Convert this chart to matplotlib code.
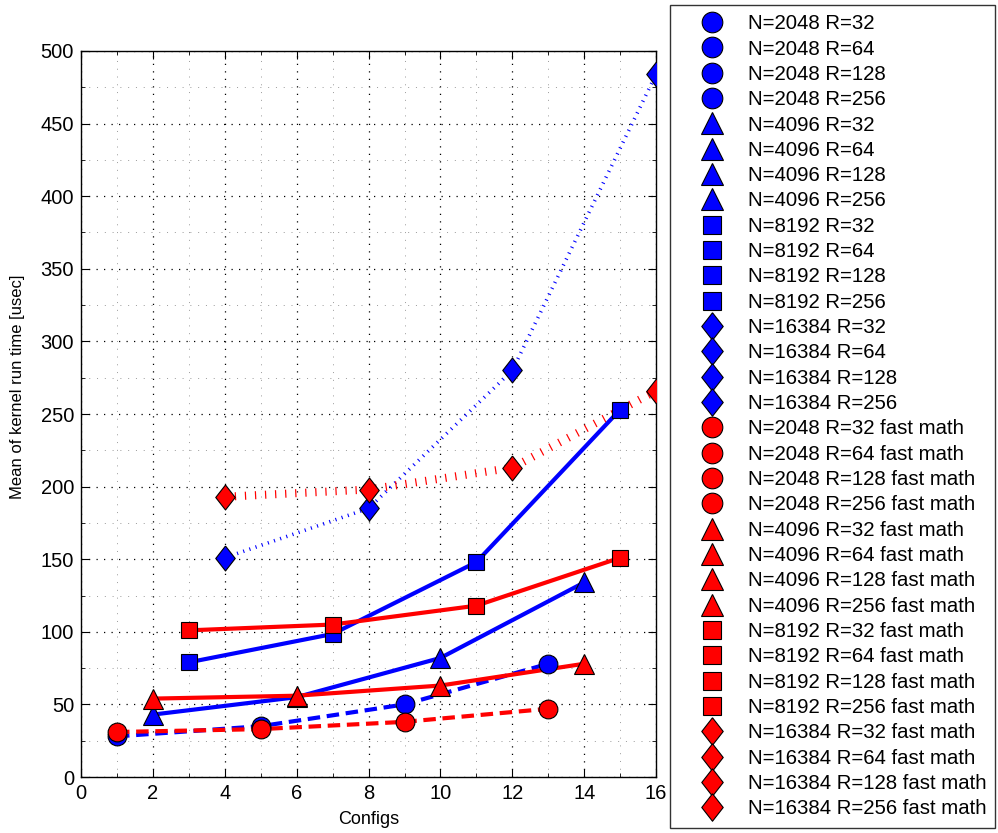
import matplotlib
matplotlib.use("Agg")
import matplotlib.pyplot as plt
from matplotlib.ticker import MultipleLocator

plt.rcParams['font.family'] = ['Liberation Sans', 'DejaVu Sans']

# configs on the x axis, one group of four per N
cfg_2048 = [1, 5, 9, 13]
cfg_4096 = [2, 6, 10, 14]
cfg_8192 = [3, 7, 11, 15]
cfg_16384 = [4, 8, 12, 16]

# mean kernel run time [usec]
t_2048 = [28, 35, 50, 78]
t_4096 = [43, 55, 82, 134]
t_8192 = [79, 98.5, 148, 253]
t_16384 = [151, 185, 280, 484]

t_2048_fm = [31, 33, 38, 47]
t_4096_fm = [54, 56, 63, 78]
t_8192_fm = [101, 105, 118, 151]
t_16384_fm = [193, 198, 213, 266]

sizes_N = [2048, 4096, 8192, 16384]
radii = [32, 64, 128, 256]

diamond = [(0, 1), (0.78, 0), (0, -1), (-0.78, 0), (0, 1)]

# marker, size, plain style, plain lw, fast-math style, fast-math lw
groups = [
    (cfg_2048, t_2048, t_2048_fm, 'o', 13.5, (0, (3, 1.6)), 3.0, (0, (3, 1.6)), 3.0),
    (cfg_4096, t_4096, t_4096_fm, '^', 14, '-', 3.0, '-', 3.0),
    (cfg_8192, t_8192, t_8192_fm, 's', 11.5, '-', 3.0, '-', 3.0),
    (cfg_16384, t_16384, t_16384_fm, diamond, 18, (0, (0.3, 1.5)), 2.6, (0, (0.15, 1.1)), 5.8),
]

fig = plt.figure(figsize=(9.98, 8.33), dpi=100)
ax = fig.add_axes([0.0812, 0.0672, 0.5762, 0.8716])

handles = []
labels = []
for suffix, color, idx in [('', 'blue', 1), (' fast math', 'red', 2)]:
    for n, g in zip(sizes_N, groups):
        xs = g[0]
        ys = g[idx]
        ls = g[5] if idx == 1 else g[7]
        lw = g[6] if idx == 1 else g[8]
        ax.plot(xs, ys, linestyle=ls, color=color, linewidth=lw,
                dash_capstyle='butt', zorder=2)
        for k, r in enumerate(radii):
            h, = ax.plot([xs[k]], [ys[k]], linestyle='none', marker=g[3],
                         markersize=g[4], markerfacecolor=color,
                         markeredgecolor='black', markeredgewidth=0.8, zorder=3)
            handles.append(h)
            labels.append('N=%d R=%d%s' % (n, r, suffix))

ax.set_xlim(0, 16)
ax.set_ylim(0, 500)
ax.xaxis.set_major_locator(MultipleLocator(2))
ax.xaxis.set_minor_locator(MultipleLocator(1))
ax.yaxis.set_major_locator(MultipleLocator(50))
ax.yaxis.set_minor_locator(MultipleLocator(25))
ax.grid(True, which='major', color='black', linestyle=(0, (1, 5)), linewidth=0.9)
ax.grid(True, which='minor', color='#999999', linestyle=(0, (1, 7)), linewidth=0.7)
ax.set_axisbelow(True)
ax.tick_params(which='both', direction='in', top=True, right=True, labelsize=14.5)
ax.tick_params(which='major', length=6, pad=5)
ax.tick_params(which='minor', length=3)
for s in ax.spines.values():
    s.set_linewidth(1.0)

ax.set_xlabel('Configs', fontsize=13, labelpad=6)
ax.set_ylabel('Mean of kernel run time [usec]', fontsize=12)
ax.yaxis.set_label_coords(-0.097, 0.538)

leg = fig.legend(handles, labels, loc='upper left', bbox_to_anchor=(0.6713, 0.994),
                 fontsize=14.7, frameon=True, fancybox=False, edgecolor='black',
                 handlelength=3.2, handletextpad=0.15, labelspacing=0.31,
                 borderpad=0.45, borderaxespad=0, numpoints=1, markerscale=1.1)
leg.get_frame().set_linewidth(1.0)

fig.savefig('out.png', dpi=100)
